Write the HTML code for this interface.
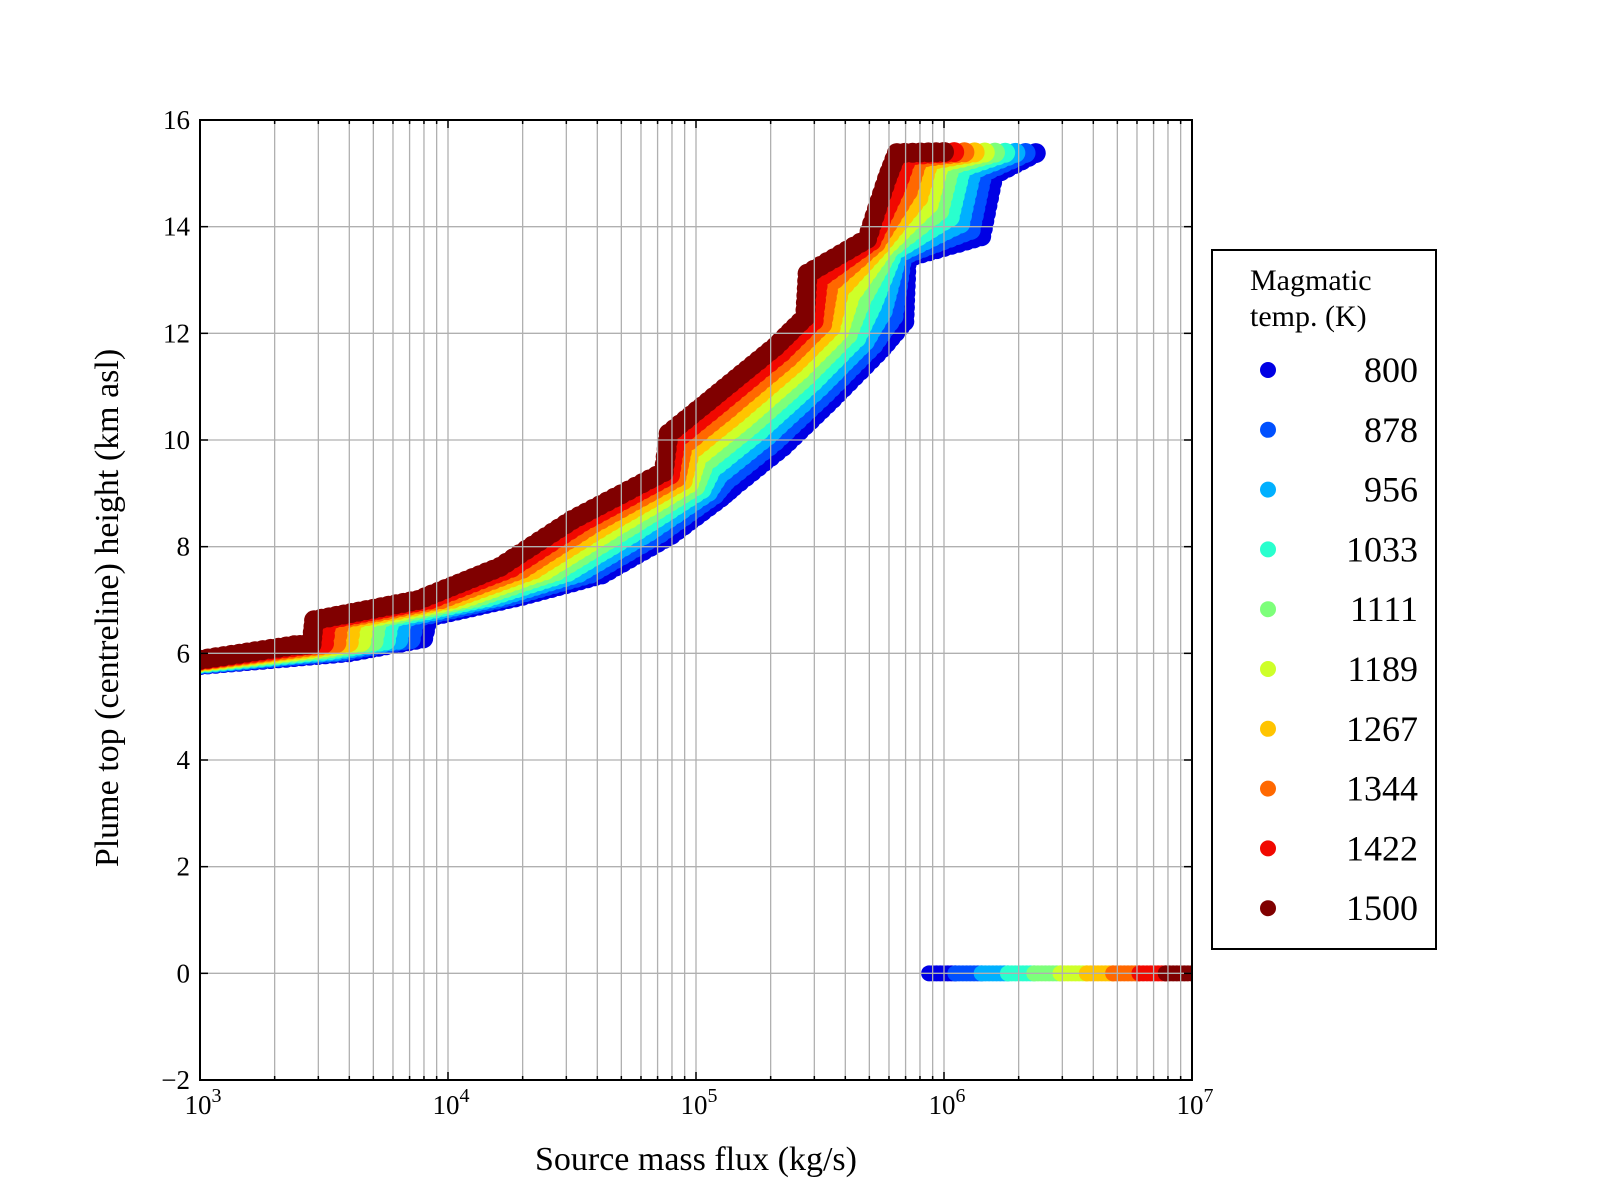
<!DOCTYPE html>
<html><head><meta charset="utf-8"><style>
body{margin:0;background:#fff;}
svg{display:block;}
text{font-family:"Liberation Serif","DejaVu Serif",serif;fill:#000;}
</style></head><body>
<svg id="s" width="1600" height="1200" xmlns="http://www.w3.org/2000/svg">
<defs><clipPath id="cp"><rect x="200" y="120" width="992" height="960"/></clipPath></defs>
<rect width="1600" height="1200" fill="#fff"/>
<g id="data" clip-path="url(#cp)"></g>
<g id="grid" stroke="#b0b0b0" stroke-width="1.3"></g>
<rect x="200" y="120" width="992" height="960" fill="none" stroke="#000" stroke-width="2"/>
<g id="ticks" stroke="#000" stroke-width="1.5"></g>
<g id="labels" font-size="27"></g>
<text x="696" y="1170" font-size="34" text-anchor="middle">Source mass flux (kg/s)</text>
<text transform="translate(118,608) rotate(-90)" font-size="34" text-anchor="middle">Plume top (centreline) height (km asl)</text>
<rect x="1212" y="250" width="224" height="699" fill="#fff" stroke="#000" stroke-width="2"/>
<text x="1250" y="290" font-size="30">Magmatic</text>
<text x="1250" y="326" font-size="30">temp. (K)</text>
<g id="leg" font-size="36"></g>
</svg>
<script>
var NS="http://www.w3.org/2000/svg";
function X(l){return 200+(l-3)*248;}
function Y(h){return 1080-(h+2)*960/18;}
function el(t,a,p){var e=document.createElementNS(NS,t);for(var k in a)e.setAttribute(k,a[k]);p.appendChild(e);return e;}
var grid=document.getElementById('grid'),ticks=document.getElementById('ticks'),labels=document.getElementById('labels');
for(var d=3;d<7;d++){for(var m=2;m<=9;m++){var x=X(d+Math.log10(m));el('line',{x1:x,x2:x,y1:120,y2:1080},grid);
el('line',{x1:x,x2:x,y1:1080,y2:1076},ticks);el('line',{x1:x,x2:x,y1:120,y2:124},ticks);}}
for(var d=3;d<=7;d++){var x=X(d);el('line',{x1:x,x2:x,y1:120,y2:1080},grid);
el('line',{x1:x,x2:x,y1:1080,y2:1072},ticks);el('line',{x1:x,x2:x,y1:120,y2:128},ticks);
var t=el('text',{x:x+3,y:1114,'text-anchor':'middle'},labels);t.textContent='10';
var s=el('tspan',{dy:-12,'font-size':20},t);s.textContent=d;}
for(var h=-2;h<=16;h+=2){var y=Y(h);el('line',{x1:200,x2:1192,y1:y,y2:y},grid);
el('line',{x1:200,x2:208,y1:y,y2:y},ticks);el('line',{x1:1192,x2:1184,y1:y,y2:y},ticks);
var t=el('text',{x:190,y:y+9,'text-anchor':'end'},labels);t.textContent=(h<0?'\u2212'+(-h):h);}
var cols=['#0000e4','#0050ff','#00b0ff','#29ffce','#7dff7a','#ceff29','#ffc400','#ff6800','#f10800','#800000'];
var names=['800','878','956','1033','1111','1189','1267','1344','1422','1500'];
var R=[[3.0,5.88],[3.38,6.15],[3.45,6.17],[3.46,6.62],[3.88,7.0],[4.21,7.62],[4.5,8.5],[4.87,9.4],[4.89,10.12],[5.07,10.8],[5.32,11.75],[5.44,12.3],[5.45,13.12],[5.69,13.77],[5.77,14.9],[5.81,15.38],[6.0,15.4]];
var B=[[3.0,5.78],[3.6,6.02],[3.90,6.28],[3.92,6.68],[4.3,7.08],[4.62,7.48],[4.9,8.22],[5.1,8.92],[5.15,9.12],[5.35,9.87],[5.55,10.77],[5.75,11.72],[5.84,12.22],[5.85,13.42],[6.15,13.82],[6.2,14.97],[6.37,15.38]];
var data=document.getElementById('data');
for(var i=0;i<10;i++){var t=i/9;var g=el('g',{fill:cols[i]},data);
 var P=[];for(var k=0;k<R.length;k++){P.push([X(B[k][0]+(R[k][0]-B[k][0])*t),Y(B[k][1]+(R[k][1]-B[k][1])*t)]);}
 for(var k=0;k<P.length-1;k++){var a=P[k],b=P[k+1];var L=Math.hypot(b[0]-a[0],b[1]-a[1]);var n=Math.max(1,Math.ceil(L/8));
  for(var j=0;j<n;j++){var u=j/n;el('circle',{cx:(a[0]+(b[0]-a[0])*u).toFixed(1),cy:(a[1]+(b[1]-a[1])*u).toFixed(1),r:10},g);}}
 el('circle',{cx:P[P.length-1][0],cy:P[P.length-1][1],r:10},g);
 var x0=5.94+i*0.106,x1=x0+0.106;if(i==9)x1=7.05;
 for(var l=x0;l<=x1+0.001;l+=0.015){var cx=X(l);el('circle',{cx:cx,cy:Y(0),r:8},g);}
}
var leg=document.getElementById('leg');
for(var i=0;i<10;i++){var y=370+i*59.8;el('circle',{cx:1268,cy:y,r:8,fill:cols[i]},leg);
 var t=el('text',{x:1418,y:y+12,'text-anchor':'end'},leg);t.textContent=names[i];}
</script>
</body></html>
